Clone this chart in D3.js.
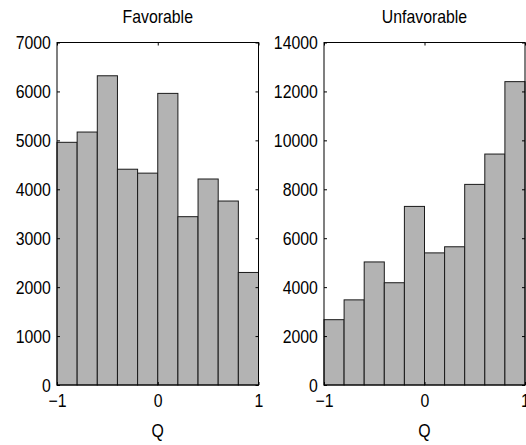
<!DOCTYPE html>
<html>
<head>
<meta charset="utf-8">
<script src="https://cdn.jsdelivr.net/npm/d3@7"></script>
<style>
  body { margin: 0; background: #fff; }
  text { font-family: "Liberation Sans", Arial, Helvetica, sans-serif; fill: #000; }
</style>
</head>
<body>
<div id="chart"></div>
<script>
// bin edges shared by both histograms
const binEdges = [-1, -0.8, -0.6, -0.4, -0.2, 0, 0.2, 0.4, 0.6, 0.8, 1];
const xTicks = [-1, 0, 1];

// counts
const favorable = [4960, 5170, 6320, 4410, 4330, 5960, 3440, 4210, 3760, 2300];
const unfavorable = [2670, 3480, 5030, 4180, 7300, 5400, 5650, 8200, 9440, 12400];

const favTicks = [0, 1000, 2000, 3000, 4000, 5000, 6000, 7000];
const unfavTicks = [0, 2000, 4000, 6000, 8000, 10000, 12000, 14000];

const wide = 526;
const high = 445;
const plotTop = 42.5;
const plotBottom = 385;
const tickLen = 3;
const fontSize = 18;
const squeeze = "scale(0.88,1)"; // the original lettering is narrow

const svg = d3.select("#chart")
  .append("svg")
  .attr("width", wide)
  .attr("height", high);

function label(g, cx, cy, str) {
  g.append("g")
    .attr("transform", `translate(${cx},${cy})`)
    .append("text")
    .attr("transform", squeeze)
    .attr("text-anchor", "middle")
    .attr("font-size", fontSize)
    .text(str);
}

function panel(left, right, title, counts, yTicks) {
  const x = d3.scaleLinear().domain([-1, 1]).range([left, right]);
  const y = d3.scaleLinear().domain([0, d3.max(yTicks)]).range([plotBottom, plotTop]);
  const g = svg.append("g");

  // bars
  g.selectAll("rect")
    .data(counts)
    .enter()
    .append("rect")
    .attr("x", (d, i) => x(binEdges[i]))
    .attr("y", d => y(d))
    .attr("width", (d, i) => x(binEdges[i + 1]) - x(binEdges[i]))
    .attr("height", d => y(0) - y(d))
    .attr("fill", "#b3b3b3")
    .attr("stroke", "#1a1a1a")
    .attr("stroke-width", 1);

  // box
  g.append("rect")
    .attr("x", left)
    .attr("y", plotTop)
    .attr("width", right - left)
    .attr("height", plotBottom - plotTop)
    .attr("fill", "none")
    .attr("stroke", "#000")
    .attr("stroke-width", 1);

  // inward ticks on all four sides
  const xAxis = d3.axisBottom(x).tickValues(xTicks).tickSize(-tickLen).tickPadding(9).tickFormat(d3.format("d"));
  const gx = g.append("g").attr("transform", `translate(0,${plotBottom})`).call(xAxis);
  g.append("g").attr("transform", `translate(0,${plotTop})`)
    .call(d3.axisTop(x).tickValues(xTicks).tickSize(-tickLen).tickFormat(""));

  const yAxis = d3.axisLeft(y).tickValues(yTicks).tickSize(-tickLen).tickPadding(7).tickFormat(d3.format("d"));
  const gy = g.append("g").attr("transform", `translate(${left},0)`).call(yAxis);
  g.append("g").attr("transform", `translate(${right},0)`)
    .call(d3.axisRight(y).tickValues(yTicks).tickSize(-tickLen).tickFormat(""));

  g.selectAll(".domain").remove();
  g.selectAll(".tick line").attr("stroke", "#000");
  gx.selectAll("text").attr("font-size", fontSize).attr("font-family", null)
    .attr("dy", "0.71em").attr("transform", squeeze);
  gy.selectAll("text").attr("font-size", fontSize).attr("font-family", null)
    .attr("dy", "0.35em").attr("transform", squeeze);

  // title and x label
  label(g, (left + right) / 2, 23, title);
  label(g, x(0), 437, "Q");
}

panel(57, 258.5, "Favorable", favorable, favTicks);
panel(324, 525, "Unfavorable", unfavorable, unfavTicks);
</script>
</body>
</html>
